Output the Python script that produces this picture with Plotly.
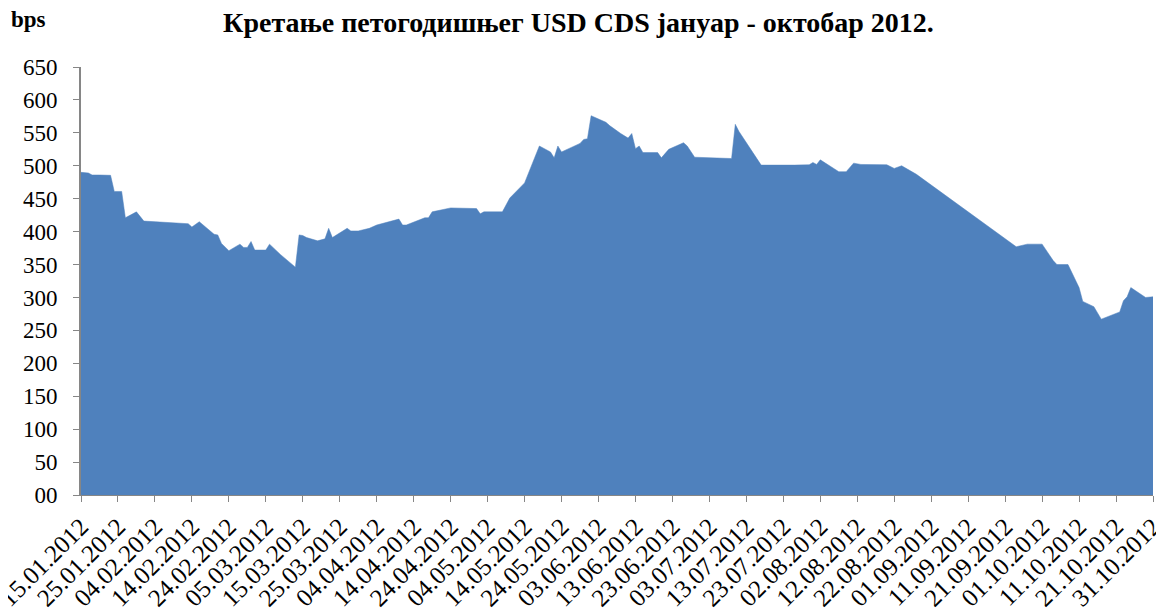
import plotly.graph_objects as go
from datetime import date, timedelta

dates = ["2012-01-15","2012-01-17","2012-01-18","2012-01-19","2012-01-20","2012-01-23","2012-01-24","2012-01-26","2012-01-27","2012-01-30",
         "2012-02-01","2012-02-13","2012-02-14","2012-02-16","2012-02-20","2012-02-21","2012-02-22","2012-02-24","2012-02-27","2012-02-28","2012-02-29",
         "2012-03-01","2012-03-02","2012-03-05","2012-03-06","2012-03-09","2012-03-13","2012-03-14","2012-03-15","2012-03-16","2012-03-19","2012-03-21",
         "2012-03-22","2012-03-23","2012-03-27","2012-03-28","2012-03-30",
         "2012-04-02","2012-04-04","2012-04-10","2012-04-11","2012-04-12","2012-04-17","2012-04-18","2012-04-19","2012-04-24","2012-04-26","2012-04-27",
         "2012-05-01","2012-05-02","2012-05-03","2012-05-08","2012-05-10","2012-05-14","2012-05-16","2012-05-18","2012-05-21","2012-05-22","2012-05-23",
         "2012-05-24","2012-05-29","2012-05-30","2012-05-31",
         "2012-06-01","2012-06-05","2012-06-06","2012-06-09","2012-06-11","2012-06-12","2012-06-13","2012-06-14","2012-06-15","2012-06-19","2012-06-20",
         "2012-06-22","2012-06-26","2012-06-27","2012-06-29",
         "2012-07-09","2012-07-10","2012-07-11","2012-07-17","2012-07-26","2012-07-30","2012-07-31",
         "2012-08-01","2012-08-02","2012-08-07","2012-08-09","2012-08-11","2012-08-13","2012-08-20","2012-08-22","2012-08-24","2012-08-28",
         "2012-09-24","2012-09-27",
         "2012-10-01","2012-10-04","2012-10-05","2012-10-08","2012-10-11","2012-10-12","2012-10-15","2012-10-17","2012-10-22","2012-10-23","2012-10-24",
         "2012-10-25","2012-10-29","2012-10-31"]

cds_bps = [490,489,486,485.5,486,485.5,461,461,421,430,
           416,412,407,415,396,395,382,371,381,376,376,
           385,372,372,381,365,346,395,394,391,386,389,
           405,391,405,401,401,
           405,410,419,410,410,421,421,430,436,436,435,
           435,427,430,430,451,474,501,530,521,512,530,
           521,534,540,541,
           576,566,561,549,542,549,526,530,520,520,512,
           525,535,530,513,
           511,563,552,501,501,501.5,505,
           502,509,491,491,504,502,501.5,496,500,487,
           377,381,
           381,356,350,350,315,294,286,267,278,295,301,
           315,300,301]

y_ticks = [0, 50, 100, 150, 200, 250, 300, 350, 400, 450, 500, 550, 600, 650]
y_tick_labels = ["00", "50", "100", "150", "200", "250", "300", "350", "400", "450", "500", "550", "600", "650"]

start = date(2012, 1, 15)
x_ticks = [start + timedelta(days=10 * i) for i in range(30)]
x_tick_labels = [d.strftime("%d.%m.%Y") for d in x_ticks]

title_text = "Кретање петогодишњег USD CDS јануар - октобар 2012."
unit_text = "bps"

fig = go.Figure()
fig.add_trace(go.Scatter(
    x=dates, y=cds_bps, mode="lines", fill="tozeroy",
    line=dict(width=0.5, color="#4F81BD"), fillcolor="#4F81BD",
    hoverinfo="x+y", showlegend=False,
))

serif = "Liberation Serif, Times New Roman, serif"
fig.update_layout(
    width=1156, height=605,
    margin=dict(l=73, r=11, t=59, b=118),
    paper_bgcolor="white", plot_bgcolor="white",
    font=dict(family=serif, color="black", size=22),
    title=dict(text="<b>" + title_text + "</b>", x=0.4935, xref="container", xanchor="center",
               y=0.976, yref="container", yanchor="middle",
               font=dict(family=serif, size=28, color="black")),
    annotations=[dict(text="<b>" + unit_text + "</b>", xref="paper", yref="paper",
                      x=-0.067, y=1.11, xanchor="left", yanchor="middle", showarrow=False,
                      font=dict(family=serif, size=23, color="black"))],
)
fig.update_xaxes(
    type="date", range=["2012-01-15", "2012-10-31"],
    tickmode="array", tickvals=[d.isoformat() for d in x_ticks], ticktext=x_tick_labels,
    tickangle=-45, ticks="outside", ticklen=6, tickcolor="#868686", tickwidth=1,
    showline=True, linecolor="#868686", linewidth=1, showgrid=False, zeroline=False,
    ticklabeloverflow="allow",
    automargin=False, tickfont=dict(family=serif, size=25, color="black"),
)
fig.update_yaxes(
    range=[0, 650], tickmode="array", tickvals=y_ticks, ticktext=y_tick_labels,
    ticks="outside", ticklen=6, tickcolor="#868686", tickwidth=1,
    showline=True, linecolor="#868686", linewidth=2, showgrid=False, zeroline=False,
    ticklabelstandoff=11,
    automargin=False, tickfont=dict(family=serif, size=23, color="black"),
)

fig.write_html("out.html")
